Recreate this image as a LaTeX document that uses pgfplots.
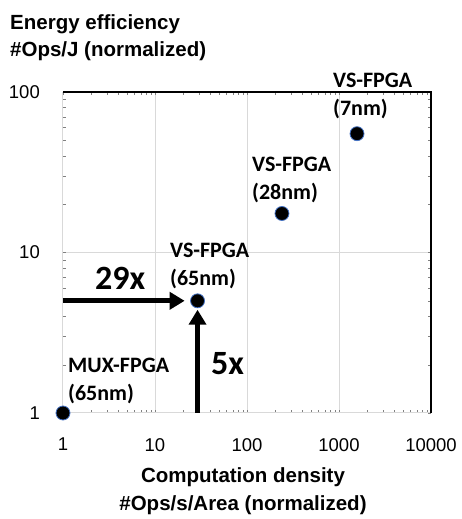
\documentclass[border=0pt]{standalone}
\usepackage{fontspec}
\setmainfont{Liberation Sans}
\newfontfamily\carlito{Carlito}
\usepackage{pgfplots}
\pgfplotsset{compat=1.18}
\usetikzlibrary{arrows.meta}
\definecolor{gridgray}{RGB}{217,217,217}
\definecolor{edgeblue}{RGB}{68,114,196}
\begin{document}
\begin{tikzpicture}[x=1pt,y=1pt]
\useasboundingbox (0,0) rectangle (461,519);
\begin{axis}[
  at={(63pt,106pt)}, anchor=south west,
  scale only axis, width=368pt, height=321pt,
  xmode=log, ymode=log,
  xmin=1, xmax=10000, ymin=1, ymax=100,
  xtick={1,10,100,1000,10000}, xticklabels={1,10,100,1000,10000},
  ytick={1,10,100}, yticklabels={1,10,100},
  major tick length=0pt, minor tick num=0,
  grid=major, major grid style={gridgray, line width=1pt},
  axis line style={draw=none},
  /pgf/number format/assume math mode=true,
  ticklabel style={font=\fontsize{18.5}{20}\selectfont, inner sep=0pt},
  xticklabel style={anchor=north, yshift=-25pt},
  yticklabel style={anchor=east, xshift=-23pt},
  clip=false,
]
\addplot[gridgray, line width=1pt] coordinates {(1,100) (1,1) (10000,1)};
\addplot[black, line width=1.2pt] coordinates {(1,100) (10000,100) (10000,1)};
\addplot[line width=5pt, -{Triangle[length=15pt,width=17pt]}] coordinates {(1,5) (21,5)};
\addplot[line width=5pt, -{Triangle[length=15pt,width=17pt]}] coordinates {(29,1) (29,4.4)};
\addplot[only marks, mark=*, mark size=7pt, mark options={fill=black, draw=edgeblue, line width=0.8pt}]
  coordinates {(1,1) (29,5) (240,17.5) (1570,55)};
\end{axis}
\begin{scope}[every node/.style={inner sep=0pt}]
\node[anchor=base west, font=\bfseries\fontsize{20.5}{24}\selectfont] at (10,489) {Energy efficiency};
\node[anchor=base west, font=\bfseries\fontsize{20.5}{24}\selectfont] at (10,462) {\#Ops/J (normalized)};
\node[anchor=base, font=\bfseries\fontsize{20.5}{24}\selectfont] at (243,36) {Computation density};
\node[anchor=base, font=\bfseries\fontsize{20.5}{24}\selectfont] at (243,9) {\#Ops/s/Area (normalized)};
\node[anchor=base west, font=\carlito\bfseries\fontsize{22}{26}\selectfont] at (170,261) {VS-FPGA};
\node[anchor=base west, font=\carlito\bfseries\fontsize{22}{26}\selectfont] at (170,233) {(65nm)};
\node[anchor=base west, font=\carlito\bfseries\fontsize{22}{26}\selectfont] at (68,146) {MUX-FPGA};
\node[anchor=base west, font=\carlito\bfseries\fontsize{22}{26}\selectfont] at (68,118) {(65nm)};
\node[anchor=base west, font=\carlito\bfseries\fontsize{22}{26}\selectfont] at (252,347) {VS-FPGA};
\node[anchor=base west, font=\carlito\bfseries\fontsize{22}{26}\selectfont] at (252,319) {(28nm)};
\node[anchor=base west, font=\carlito\bfseries\fontsize{22}{26}\selectfont] at (333,431) {VS-FPGA};
\node[anchor=base west, font=\carlito\bfseries\fontsize{22}{26}\selectfont] at (333,403) {(7nm)};
\node[anchor=base west, font=\carlito\bfseries\fontsize{34}{40}\selectfont] at (95,229) {29x};
\node[anchor=base west, font=\carlito\bfseries\fontsize{34}{40}\selectfont] at (211,144) {5x};
\end{scope}
\end{tikzpicture}
\end{document}
